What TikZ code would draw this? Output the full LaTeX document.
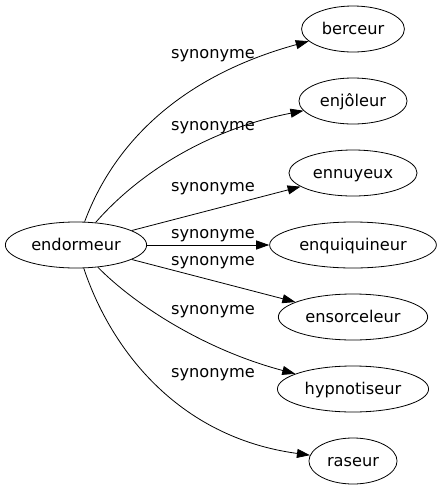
\documentclass[tikz,border=0pt]{standalone}
\usepackage{fontspec}
\setmainfont{DejaVu Sans}
\usepackage{tikz}
\usetikzlibrary{arrows.meta,shapes.geometric}

\begin{document}
\begin{tikzpicture}[x=1pt,y=-1pt]
\def\cLine{black}
\def\cText{black}
\def\xr{353}
\def\d{72}
\def\ls{213}
\tikzset{
  word/.style={draw=\cLine, ellipse, line width=0.8pt, minimum height=46pt, inner xsep=5.2pt,
    text height=13pt, text depth=2pt, text=\cText, font=\fontsize{16.2}{19}\selectfont},
  syn/.style={text=\cText, anchor=base, inner sep=0pt, font=\fontsize{16.2}{19}\selectfont},
  link/.style={draw=\cLine, line width=0.8pt, -{Triangle[length=13pt,width=9pt]}}
}
\useasboundingbox (0,0) rectangle (442,491);
\node[word] (endormeur) at (76,245) {endormeur};
\node[word] (berceur) at (\xr,245-3*\d) {berceur};
\node[word] (enjoleur) at (\xr,245-2*\d) {enjôleur};
\node[word] (ennuyeux) at (\xr,245-\d) {ennuyeux};
\node[word] (enquiquineur) at (\xr,245) {enquiquineur};
\node[word] (ensorceleur) at (\xr,245+\d) {ensorceleur};
\node[word] (hypnotiseur) at (\xr,245+2*\d) {hypnotiseur};
\node[word] (raseur) at (\xr,245+3*\d) {raseur};
\draw[link] (endormeur) .. controls (112,148) and (175,78) .. (berceur);
\draw[link] (endormeur) .. controls (137,175) and (205,130) .. (enjoleur);
\draw[link] (endormeur) -- (ennuyeux);
\draw[link] (endormeur) -- (enquiquineur);
\draw[link] (endormeur) -- (ensorceleur);
\draw[link] (endormeur) .. controls (135,305) and (205,350) .. (hypnotiseur);
\draw[link] (endormeur) .. controls (110,347) and (176,437) .. (raseur);
\node[syn] (s1) at (\ls,58) {synonyme};
\node[syn] (s2) at (\ls,130) {synonyme};
\node[syn] (s3) at (\ls,191) {synonyme};
\node[syn] (s4) at (\ls,238) {synonyme};
\node[syn] (s5) at (\ls,265) {synonyme};
\node[syn] (s6) at (\ls,314) {synonyme};
\node[syn] (s7) at (\ls,377) {synonyme};
\end{tikzpicture}
\end{document}
